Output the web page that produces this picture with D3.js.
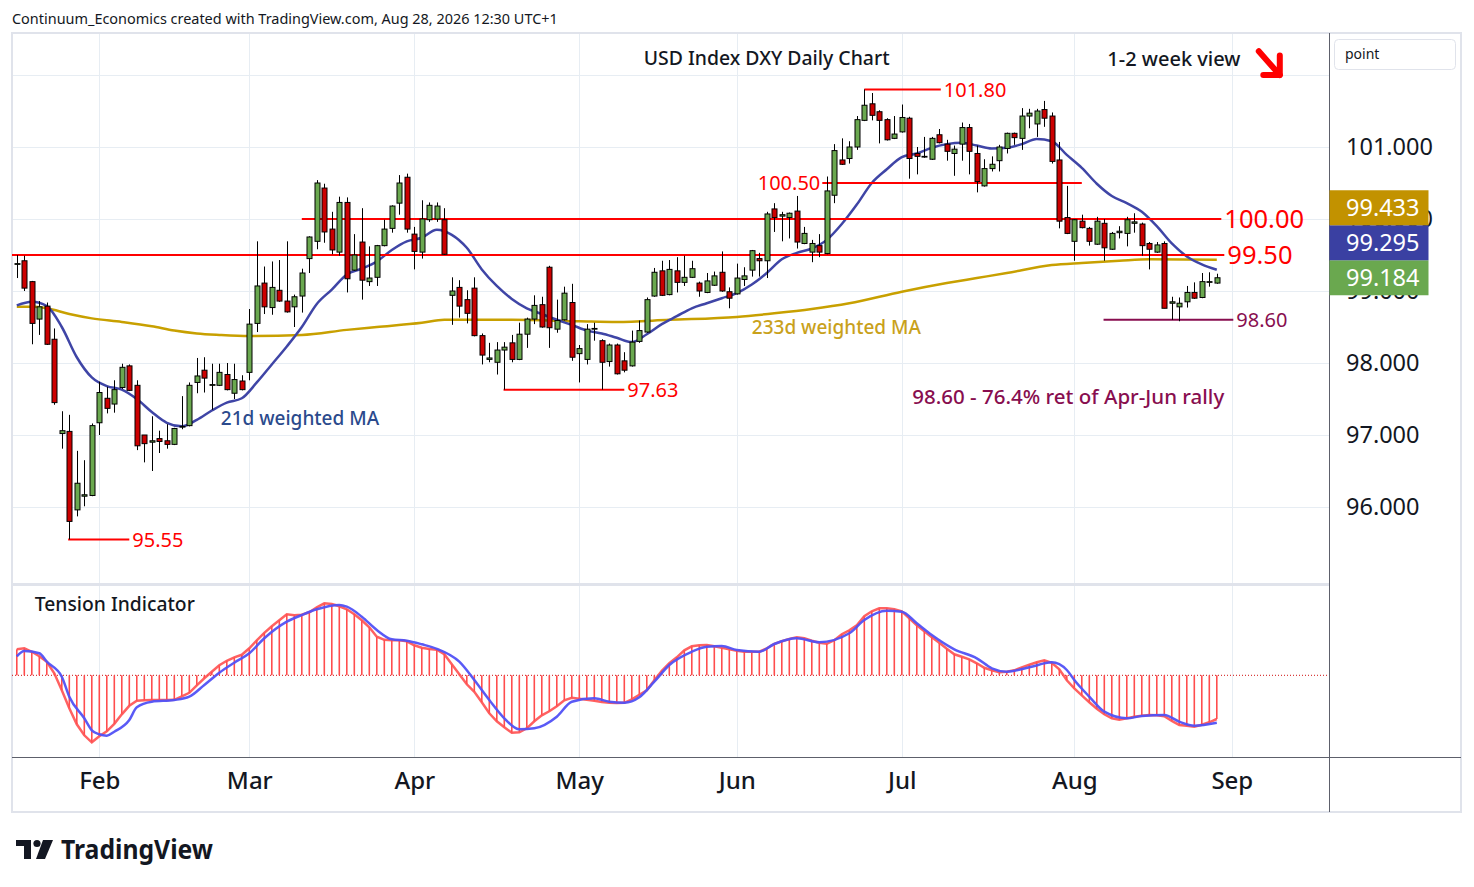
<!DOCTYPE html>
<html>
<head>
<meta charset="utf-8">
<script src="https://cdn.jsdelivr.net/npm/d3@7"></script>
<style>
  body { margin: 0; background: #fff; }
  svg { display: block; font-family: "Noto Sans", sans-serif; }
</style>
</head>
<body>
<div id="chart"></div>
<script>
// USD Index DXY daily, first bar 16 Jan 2026, one row per trading day: [open, high, low, close]
const startDate = "2026-01-16";
const ohlc = [
  [99.37,99.50,99.18,99.38],[99.42,99.49,99.00,99.04],[99.13,99.14,98.26,98.55],[98.61,98.86,98.39,98.78],
  [98.79,98.84,98.25,98.26],[98.33,98.48,97.42,97.45],[97.02,97.33,96.81,97.06],[97.05,97.28,95.55,95.80],
  [95.96,96.78,95.87,96.33],[96.15,96.65,96.01,96.17],[96.16,97.16,96.15,97.13],[97.17,97.74,97.00,97.59],
  [97.51,97.67,97.30,97.37],[97.43,97.76,97.31,97.63],[97.66,97.99,97.64,97.94],[97.96,97.98,97.61,97.62],
  [97.69,97.76,96.79,96.85],[97.00,97.00,96.62,96.88],[96.90,97.26,96.50,96.92],[96.95,97.06,96.75,96.91],
  [96.92,97.15,96.81,96.87],[96.87,97.10,96.86,97.09],[97.11,97.54,97.08,97.12],[97.13,97.73,97.12,97.69],
  [97.73,98.07,97.58,97.82],[97.90,98.08,97.59,97.79],[97.69,97.99,97.35,97.70],[97.69,97.99,97.68,97.87],
  [97.84,98.00,97.62,97.63],[97.58,97.99,97.50,97.77],[97.75,97.83,97.62,97.63],[97.87,98.75,97.76,98.54],
  [98.55,99.69,98.43,99.07],[99.11,99.34,98.68,98.78],[98.77,99.41,98.67,99.05],[99.01,99.43,98.85,98.86],
  [98.86,99.69,98.70,98.71],[98.78,98.95,98.50,98.92],[98.93,99.31,98.70,99.25],[99.45,99.76,99.25,99.75],
  [99.69,100.54,99.58,100.50],[100.43,100.49,99.67,99.82],[99.86,100.10,99.51,99.57],[99.54,100.31,99.49,100.23],
  [100.23,100.30,98.98,99.17],[99.29,99.79,99.28,99.50],[99.68,100.15,98.88,99.15],[99.13,99.62,99.07,99.18],
  [99.19,99.64,99.07,99.63],[99.63,99.99,99.62,99.86],[99.87,100.19,99.81,100.18],[100.22,100.61,100.06,100.50],
  [100.58,100.63,99.81,99.86],[99.79,99.89,99.30,99.55],[99.54,100.26,99.45,100.00],[99.99,100.23,99.96,100.19],
  [100.00,100.23,99.96,100.18],[99.99,100.15,99.50,99.51],[98.94,99.19,98.53,99.00],[99.05,99.15,98.63,98.79],
  [98.88,99.01,98.55,98.69],[99.04,99.19,98.37,98.38],[98.38,98.41,97.98,98.11],[98.05,98.28,98.01,98.07],
  [98.01,98.29,97.84,98.18],[98.18,98.29,97.63,98.22],[98.28,98.39,98.01,98.05],[98.05,98.56,98.04,98.40],
  [98.40,98.63,98.21,98.61],[98.61,98.94,98.54,98.80],[98.81,98.92,98.49,98.50],[99.33,99.35,98.21,98.49],
  [98.47,98.88,98.42,98.59],[98.60,99.06,98.59,98.97],[98.84,99.10,98.03,98.08],[98.13,98.25,97.73,98.20],
  [98.05,98.54,97.98,98.47],[98.47,98.56,98.31,98.48],[98.31,98.33,97.63,98.01],[98.02,98.27,97.95,98.25],
  [98.25,98.27,97.84,97.85],[98.03,98.15,97.87,97.90],[97.96,98.45,97.95,98.29],[98.30,98.59,98.28,98.45],
  [98.43,98.91,98.42,98.88],[98.93,99.32,98.92,99.26],[99.28,99.42,98.93,98.94],[98.95,99.43,98.94,99.30],
  [99.28,99.47,98.98,99.12],[99.12,99.49,99.07,99.19],[99.19,99.42,99.18,99.31],[99.11,99.13,98.92,99.00],
  [98.98,99.25,98.97,99.14],[99.08,99.27,99.07,99.21],[99.26,99.55,98.99,99.00],[98.99,99.05,98.76,98.90],
  [98.96,99.38,98.95,99.18],[99.16,99.33,99.07,99.21],[99.29,99.57,99.20,99.56],[99.45,99.53,99.20,99.42],
  [99.42,100.10,99.18,100.07],[100.14,100.22,99.82,100.02],[100.04,100.10,99.69,100.06],[100.02,100.09,99.73,100.08],
  [100.11,100.32,99.59,99.68],[99.66,99.89,99.65,99.80],[99.54,99.71,99.40,99.66],[99.63,99.79,99.47,99.54],
  [99.52,100.59,99.51,100.39],[100.33,101.04,100.22,100.95],[100.82,101.12,100.75,100.76],[100.84,101.08,100.77,101.00],
  [101.00,101.43,100.96,101.38],[101.37,101.80,101.36,101.58],[101.60,101.75,101.37,101.44],[101.49,101.51,101.05,101.37],
  [101.38,101.40,101.09,101.10],[101.12,101.43,101.11,101.18],[101.21,101.59,101.20,101.41],[101.40,101.42,100.56,100.84],
  [100.91,101.00,100.62,100.87],[100.86,101.14,100.85,100.87],[100.83,101.14,100.82,101.12],[101.17,101.25,101.05,101.06],
  [101.04,101.10,100.81,100.94],[100.91,101.02,100.60,100.97],[101.04,101.34,100.81,101.27],[101.27,101.32,100.62,100.94],
  [100.91,101.02,100.37,100.52],[100.46,100.83,100.45,100.70],[100.70,100.87,100.66,100.76],[100.81,101.03,100.66,101.00],
  [100.98,101.20,100.91,101.19],[101.19,101.20,101.03,101.13],[101.12,101.54,100.96,101.43],[101.43,101.53,101.26,101.47],
  [101.32,101.53,101.14,101.50],[101.52,101.64,101.28,101.40],[101.43,101.48,100.77,100.80],[100.82,101.07,99.87,99.97],
  [100.02,100.46,99.79,99.80],[99.69,100.00,99.42,99.99],[99.97,100.06,99.87,99.88],[99.87,99.89,99.63,99.69],
  [99.65,100.03,99.64,99.97],[99.94,100.00,99.42,99.60],[99.58,99.82,99.57,99.80],[99.81,99.90,99.73,99.83],
  [99.80,100.03,99.62,99.99],[99.94,100.08,99.81,99.96],[99.93,99.95,99.49,99.63],[99.66,99.68,99.30,99.58],
  [99.54,99.68,99.53,99.64],[99.66,99.69,98.76,98.76],[98.83,98.92,98.60,98.85],[98.78,98.91,98.58,98.83],
  [98.85,99.07,98.77,98.98],[98.98,99.12,98.89,98.90],[98.91,99.25,98.90,99.13],[99.12,99.26,99.06,99.13],
  [99.11,99.24,99.10,99.184]
];

// moving averages: [bar index, value]
const wma21 = [
  [0,98.80],[2,98.85],[4,98.79],[6,98.50],[8,98.08],[10,97.80],[12,97.68],[14,97.63],[16,97.50],[18,97.32],
  [20,97.17],[22,97.12],[24,97.21],[26,97.34],[28,97.45],[30,97.51],[32,97.73],[34,97.98],[36,98.23],[38,98.50],
  [40,98.82],[42,99.02],[44,99.23],[46,99.31],[48,99.41],[50,99.57],[52,99.69],[54,99.74],[56,99.85],[58,99.78],
  [60,99.60],[62,99.30],[64,99.07],[66,98.89],[68,98.76],[70,98.68],[72,98.60],[74,98.53],[76,98.45],[78,98.41],
  [80,98.35],[82,98.29],[84,98.40],[86,98.54],[88,98.65],[90,98.76],[92,98.83],[94,98.90],[96,98.97],[98,99.09],
  [100,99.25],[102,99.44],[104,99.53],[106,99.59],[108,99.71],[110,99.93],[112,100.20],[114,100.50],[116,100.69],[118,100.86],
  [120,100.91],[122,100.99],[124,101.04],[126,101.06],[128,101.02],[130,100.98],[132,100.99],[134,101.04],[136,101.11],[138,101.08],
  [140,100.89],[142,100.71],[144,100.49],[146,100.32],[148,100.22],[150,100.10],[152,99.90],[154,99.66],[156,99.48],[158,99.37],
  [160,99.295]
];
const wma233 = [
  [0,98.78],[2,98.78],[4,98.76],[7,98.68],[10,98.62],[14,98.57],[18,98.51],[21,98.45],[24,98.41],[27,98.39],
  [31,98.375],[38,98.39],[44,98.46],[48,98.50],[54,98.56],[57,98.60],[66,98.60],[75,98.58],[80,98.57],[87,98.60],
  [96,98.64],[101,98.69],[106,98.75],[111,98.83],[118,98.99],[124,99.11],[128,99.18],[132,99.25],[138,99.36],[142,99.39],
  [147,99.42],[151,99.44],[160,99.433]
];

// tension indicator, one value per bar, and its smoothed signal [bar index, value]
const tension = [
  2.6,2.7,2.35,1.9,1.35,0.2,-1.5,-3.3,-4.9,-6.0,-6.7,-6.1,-5.6,-4.85,-3.9,-3.05,-2.55,-2.5,-2.47,-2.47,
  -2.47,-2.45,-2.1,-1.75,-1.0,-0.3,0.35,1.0,1.45,1.8,2.05,2.7,3.5,4.25,4.9,5.5,6.1,6.0,6.05,6.3,
  6.8,7.2,7.13,6.9,6.6,6.1,5.5,4.8,3.86,3.55,3.5,3.5,3.4,3.0,2.75,2.63,2.55,2.1,1.1,0.1,
  -0.9,-1.65,-2.7,-3.8,-4.6,-5.2,-5.75,-5.7,-5.3,-4.6,-4.0,-3.6,-3.1,-2.5,-2.25,-2.35,-2.45,-2.55,-2.67,-2.74,
  -2.77,-2.75,-2.4,-1.95,-1.5,-0.5,0.45,1.2,1.8,2.5,2.9,3.0,3.03,2.9,2.75,2.6,2.45,2.36,2.36,2.36,
  2.7,3.13,3.4,3.63,3.8,3.7,3.46,3.25,3.15,3.5,4.1,4.5,5.0,5.9,6.4,6.7,6.7,6.6,6.4,5.7,
  5.0,4.4,3.8,3.25,2.65,2.1,1.85,1.6,1.2,0.75,0.5,0.3,0.35,0.5,0.8,1.05,1.3,1.5,1.25,0.6,
  -0.5,-1.3,-2.0,-2.7,-3.35,-3.9,-4.3,-4.45,-4.3,-4.15,-4.05,-3.97,-4.0,-4.1,-4.55,-4.97,-5.05,-5.14,-4.95,-4.7,
  -4.37
];
const tensionSignal = [
  [0,1.9],[1,2.43],[3,2.2],[4,1.36],[6,-0.14],[7,-2.14],[9,-4.3],[10,-5.5],[11,-5.9],[12,-6.04],[13,-5.64],
  [15,-4.47],[16,-3.2],[18,-2.64],[21,-2.47],[23,-2.14],[25,-0.97],[27,0.26],[29,1.26],[31,2.2],[33,3.7],
  [36,5.36],[38,6.03],[40,6.6],[43,7.03],[44,6.86],[46,5.86],[48,4.53],[50,3.6],[52,3.46],[54,3.1],
  [56,2.65],[59,1.36],[61,-0.47],[63,-2.47],[65,-4.3],[67,-5.4],[69,-5.3],[72,-4.14],[74,-2.64],[77,-2.3],
  [79,-2.64],[81,-2.74],[83,-2.2],[85,-0.64],[87,1.03],[90,2.36],[92,2.86],[94,2.93],[96,2.53],[99,2.36],
  [101,3.13],[104,3.7],[107,3.3],[111,4.2],[113,5.53],[116,6.46],[118,6.36],[120,5.2],[122,4.03],[125,2.6],
  [128,1.7],[130,0.7],[132,0.36],[135,0.8],[138,1.3],[140,0.53],[141,-0.47],[143,-2.14],[145,-3.64],[148,-4.3],
  [150,-4.07],[153,-3.97],[155,-4.64],[157,-5.04],[160,-4.74]
];

const monthLabels = ["Feb", "Mar", "Apr", "May", "Jun", "Jul", "Aug", "Sep"];
const priceTicks = [96, 97, 98, 99, 100, 101];
const gridPrices = [96, 97, 98, 99, 100, 101, 102];

// horizontal levels drawn on the chart: price, from bar, to bar
const levels = [
  { price: 99.50, from: -1, to: 161, label: "99.50", big: true, side: "right", color: "#ff0000" },
  { price: 100.00, from: 38, to: 160.6, label: "100.00", big: true, side: "right", color: "#ff0000" },
  { price: 100.50, from: 107.4, to: 142, label: "100.50", side: "left", color: "#ff0000" },
  { price: 101.80, from: 113, to: 123.2, label: "101.80", side: "right", color: "#ff0000" },
  { price: 98.60, from: 144.9, to: 162.2, label: "98.60", side: "right", color: "#880e4f" },
  { price: 97.63, from: 64.9, to: 81, label: "97.63", side: "right", color: "#ff0000" },
  { price: 95.55, from: 6.85, to: 15, label: "95.55", side: "right", color: "#ff0000" }
];

const notes = [
  { text: "233d weighted MA", bar: 98.0, price: 98.50, color: "#c9a11b", size: 19 },
  { text: "21d weighted MA", bar: 27.2, price: 97.24, color: "#2b4a8c", size: 19 },
  { text: "98.60 - 76.4% ret of Apr-Jun rally", bar: 119.4, price: 97.54, color: "#880e4f", size: 20.5 },
  { text: "USD Index DXY Daily Chart", bar: 83.6, price: 102.24, color: "#131722", size: 19.4 },
  { text: "1-2 week view", bar: 145.4, price: 102.22, color: "#131722", size: 20 }
];

const lastValues = [
  { value: 99.433, color: "#c29200" },
  { value: 99.295, color: "#3a40a2" },
  { value: 99.184, color: "#6aa84f" }
];

// ---------------------------------------------------------------
const W = 1474, H = 887;
const left = 12, right = 1329, frameRight = 1461;
const priceTop = 33, priceBottom = 583;
const tensTop = 587, tensBottom = 757, frameBottom = 812;

function tradingDays(start, n) {
  const out = [];
  const d = new Date(start + "T12:00:00Z");
  while (out.length < n) {
    const wd = d.getUTCDay();
    if (wd > 0 && wd < 6) out.push(new Date(d));
    d.setUTCDate(d.getUTCDate() + 1);
  }
  return out;
}
const days = tradingDays(startDate, 180);
const fmtMonth = d3.utcFormat("%b");
const monthStarts = d3.range(1, days.length)
  .filter(i => days[i].getUTCMonth() !== days[i - 1].getUTCMonth())
  .filter(i => monthLabels.includes(fmtMonth(days[i])));

const barW = 7.5;
const x = d3.scaleLinear()
  .domain([(left - 16.8) / barW, (right - 16.8) / barW])
  .range([left, right]);
const y = d3.scaleLinear().domain([95, 102]).range([579, 75]);
const yT = d3.scaleLinear().domain([-8, 9]).range([755.3, 585.3]);

const svg = d3.select("#chart").append("svg")
  .attr("width", W).attr("height", H);

svg.append("rect").attr("width", W).attr("height", H).attr("fill", "#fff");

const defs = svg.append("defs");
defs.append("clipPath").attr("id", "clipPrice").append("rect")
  .attr("x", left).attr("y", priceTop).attr("width", right - left).attr("height", priceBottom - priceTop);
defs.append("clipPath").attr("id", "clipTens").append("rect")
  .attr("x", left).attr("y", tensTop).attr("width", right - left).attr("height", tensBottom - tensTop);

// header
svg.append("text")
  .attr("x", 12).attr("y", 24)
  .style("font-size", "14.45px").attr("fill", "#131722")
  .text("Continuum_Economics created with TradingView.com, Aug 28, 2026 12:30 UTC+1");

// gridlines
const grid = svg.append("g").attr("stroke", "#e7edf3").attr("stroke-width", 1);
grid.selectAll("line.h").data(gridPrices).enter().append("line")
  .attr("x1", left).attr("x2", right)
  .attr("y1", d => Math.round(y(d)) + 0.5).attr("y2", d => Math.round(y(d)) + 0.5);
grid.selectAll("line.v").data(monthStarts).enter().append("line")
  .attr("x1", d => Math.round(x(d)) + 0.5).attr("x2", d => Math.round(x(d)) + 0.5)
  .attr("y1", priceTop).attr("y2", tensBottom);

// frame and separators
svg.append("rect")
  .attr("x", left).attr("y", priceTop).attr("width", frameRight - left).attr("height", frameBottom - priceTop)
  .attr("fill", "none").attr("stroke", "#e0e3eb").attr("stroke-width", 2);
svg.append("line")
  .attr("x1", left).attr("x2", right).attr("y1", 584.5).attr("y2", 584.5)
  .attr("stroke", "#e0e3eb").attr("stroke-width", 3);
svg.append("line")
  .attr("x1", right + 0.5).attr("x2", right + 0.5).attr("y1", priceTop).attr("y2", frameBottom)
  .attr("stroke", "#5d606b").attr("stroke-width", 1);
svg.append("line")
  .attr("x1", left).attr("x2", frameRight).attr("y1", tensBottom + 0.5).attr("y2", tensBottom + 0.5)
  .attr("stroke", "#5d606b").attr("stroke-width", 1);

// ---- price pane
const pane = svg.append("g").attr("clip-path", "url(#clipPrice)");

const maLine = d3.line().x(d => x(d[0])).y(d => y(d[1])).curve(d3.curveMonotoneX);
pane.append("path").datum(wma233)
  .attr("d", maLine).attr("fill", "none").attr("stroke", "#c8a000").attr("stroke-width", 2.5);
pane.append("path").datum(wma21)
  .attr("d", maLine).attr("fill", "none").attr("stroke", "#3f45a6").attr("stroke-width", 2.5);

// level lines
pane.selectAll("line.level").data(levels).enter().append("line")
  .attr("x1", d => x(d.from)).attr("x2", d => x(d.to))
  .attr("y1", d => y(d.price)).attr("y2", d => y(d.price))
  .attr("stroke", d => d.color).attr("stroke-width", 2);

// candles
const candles = pane.append("g").selectAll("g").data(ohlc).enter().append("g");
candles.append("line")
  .attr("x1", (d, i) => Math.round(x(i)) + 0.5).attr("x2", (d, i) => Math.round(x(i)) + 0.5)
  .attr("y1", d => y(d[1])).attr("y2", d => y(d[2]))
  .attr("stroke", "#000").attr("stroke-width", 1);
candles.append("rect")
  .attr("x", (d, i) => Math.round(x(i)) - 2)
  .attr("width", 5)
  .attr("y", d => y(Math.max(d[0], d[3])))
  .attr("height", d => Math.max(0.6, Math.abs(y(d[0]) - y(d[3]))))
  .attr("fill", d => d[3] >= d[0] ? "#6aa84f" : "#cc0000")
  .attr("stroke", "#000").attr("stroke-width", 1);

// level labels
svg.selectAll("text.level").data(levels).enter().append("text")
  .attr("x", d => d.side === "left" ? x(d.from) - 2 : x(d.to) + 3)
  .attr("y", d => y(d.price))
  .attr("dy", "0.36em")
  .attr("text-anchor", d => d.side === "left" ? "end" : "start")
  .style("font-size", d => d.big ? "25.5px" : "20px")
  .attr("fill", d => d.color)
  .text(d => d.label);

// notes
svg.selectAll("text.note").data(notes).enter().append("text")
  .attr("x", d => x(d.bar)).attr("y", d => y(d.price)).attr("dy", "0.36em")
  .style("font-size", d => d.size + "px").style("font-weight", 500)
  .attr("fill", d => d.color)
  .text(d => d.text);

// bearish arrow
const arrow = svg.append("g").attr("stroke", "#ff0000").attr("stroke-width", 6)
  .attr("fill", "none").attr("stroke-linecap", "round").attr("stroke-linejoin", "round");
arrow.append("line")
  .attr("x1", x(165.6)).attr("y1", y(102.33)).attr("x2", x(168.4)).attr("y2", y(102.0));
arrow.append("polyline")
  .attr("points", [[x(168.4), y(102.27)], [x(168.4), y(102.0)], [x(166.2), y(102.0)]].map(p => p.join(",")).join(" "));

// ---- tension pane
const tens = svg.append("g").attr("clip-path", "url(#clipTens)");
tens.append("line")
  .attr("x1", left).attr("x2", right).attr("y1", yT(0)).attr("y2", yT(0))
  .attr("stroke", "#d01010").attr("stroke-width", 1).attr("stroke-dasharray", "1,2");
tens.append("g").selectAll("line").data(tension).enter().append("line")
  .attr("x1", (d, i) => x(i)).attr("x2", (d, i) => x(i))
  .attr("y1", yT(0)).attr("y2", d => yT(d))
  .attr("stroke", "#ff4d4d").attr("stroke-width", 1.6);
tens.append("path").datum(tension)
  .attr("d", d3.line().x((d, i) => x(i)).y(d => yT(d)))
  .attr("fill", "none").attr("stroke", "#ff5050").attr("stroke-width", 2.5).attr("stroke-opacity", 0.9);
tens.append("path").datum(tensionSignal)
  .attr("d", d3.line().x(d => x(d[0])).y(d => yT(d[1])).curve(d3.curveMonotoneX))
  .attr("fill", "none").attr("stroke", "#5151f5").attr("stroke-width", 2.5).attr("stroke-opacity", 0.95);

svg.append("text")
  .attr("x", x(2.4)).attr("y", yT(7.13)).attr("dy", "0.36em")
  .style("font-size", "19.3px").style("font-weight", 500).attr("fill", "#131722")
  .text("Tension Indicator");

// ---- axes
const xAxis = svg.append("g")
  .attr("transform", `translate(0,${tensBottom})`)
  .call(d3.axisBottom(x).tickValues(monthStarts).tickFormat(i => fmtMonth(days[i])).tickSize(0).tickPadding(15));
xAxis.select(".domain").remove();
xAxis.selectAll("text")
  .style("font-family", "Noto Sans").style("font-size", "24px").style("font-weight", 500).attr("fill", "#131722");

const yAxis = svg.append("g")
  .attr("transform", `translate(${right},0)`)
  .call(d3.axisRight(y).tickValues(priceTicks).tickFormat(d3.format(".3f")).tickSize(0).tickPadding(17));
yAxis.select(".domain").remove();
yAxis.selectAll("text")
  .style("font-family", "Noto Sans").style("font-size", "23.5px").attr("fill", "#131722");

// last value badges, stacked upward so they don't overlap
const badgeH = 35;
const badges = lastValues.slice().sort((a, b) => a.value - b.value);
let prevTop = Infinity;
badges.forEach(b => {
  const cy = Math.min(y(b.value), prevTop - badgeH / 2);
  b.cy = cy;
  prevTop = cy - badgeH / 2;
});
const bg = svg.append("g").selectAll("g").data(badges).enter().append("g");
bg.append("rect")
  .attr("x", right + 0.5).attr("width", 99)
  .attr("y", d => d.cy - badgeH / 2).attr("height", badgeH)
  .attr("fill", d => d.color);
bg.append("text")
  .attr("x", right + 17).attr("y", d => d.cy).attr("dy", "0.36em")
  .style("font-size", "23.5px").attr("fill", "#fff")
  .text(d => d3.format(".3f")(d.value));

// "point" box
svg.append("rect")
  .attr("x", 1334.5).attr("y", 39.5).attr("width", 121).attr("height", 30).attr("rx", 4)
  .attr("fill", "#fff").attr("stroke", "#e0e3eb");
svg.append("text")
  .attr("x", 1345).attr("y", 59).style("font-size", "14px").attr("fill", "#131722").text("point");

// TradingView logo
const logo = svg.append("g").attr("fill", "#131722");
logo.append("path").attr("d", "M16,840 H31 V859 H24 V846 H16 Z");
logo.append("circle").attr("cx", 37).attr("cy", 843.5).attr("r", 3.6);
logo.append("path").attr("d", "M43,840 H53 L45,859 H36 Z");
svg.append("text")
  .attr("x", 61).attr("y", 859)
  .style("font-size", "26px").style("font-weight", 700).attr("fill", "#131722")
  .attr("textLength", 152).attr("lengthAdjust", "spacingAndGlyphs")
  .text("TradingView");
</script>
</body>
</html>
